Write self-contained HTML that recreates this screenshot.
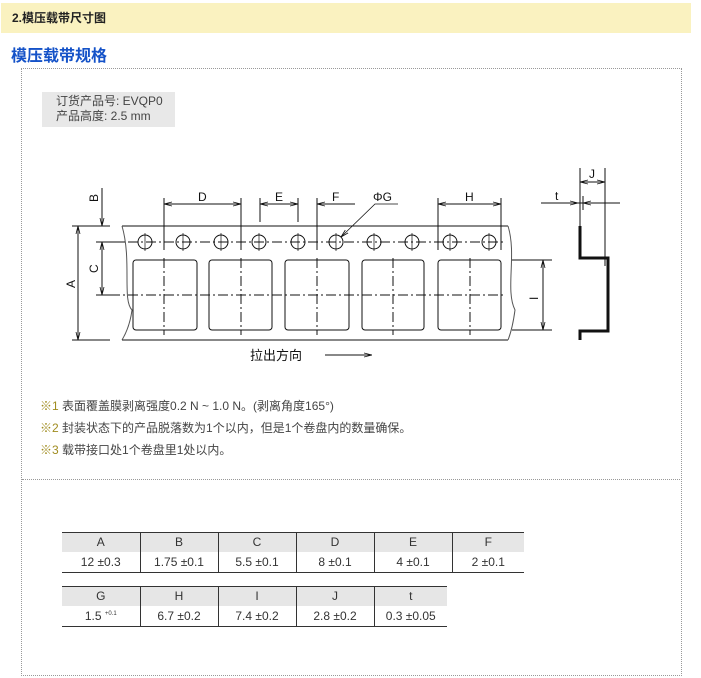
<!DOCTYPE html>
<html><head><meta charset="utf-8"><style>
*{margin:0;padding:0;box-sizing:border-box}
body{width:701px;height:678px;background:#fff;position:relative;font-family:"Liberation Sans","Noto Sans CJK SC",sans-serif;color:#333;overflow:hidden}
.hdr{position:absolute;left:1px;top:3px;width:690px;height:30px;background:#faf2c0;font-size:12px;font-weight:bold;line-height:30px;padding-left:11px;color:#222}
.ttl{position:absolute;left:11px;top:42px;font-size:16px;font-weight:bold;color:#1452c8}
.box{position:absolute;left:21px;top:68px;width:661px;height:608px;border:1px dotted #999}
.sep{position:absolute;left:22px;top:479px;width:660px;border-top:1px dotted #999}
.gray{position:absolute;left:42px;top:92px;width:133px;height:35px;background:#e8e8e8;font-size:12px;line-height:15px;padding:2px 0 0 14px;color:#444}
.note{position:absolute;left:40px;font-size:12px;color:#444}
.note b{font-weight:normal;color:#a08c20}
table{position:absolute;border-collapse:collapse;font-size:12px;color:#333}
td{text-align:center;height:20px;border-left:1px solid #333;padding:0}
td:first-child{border-left:none}
tr.h td{background:#e6e6e6;border-top:1px solid #333;height:19px}
tr.v td{border-bottom:1px solid #333;height:21px}
sup{font-size:6px;line-height:0}
</style></head><body>
<div class="hdr">2.模压载带尺寸图</div>
<div class="ttl">模压载带规格</div>
<div class="box"></div>
<div class="sep"></div>
<div class="gray">订货产品号: EVQP0<br>产品高度: 2.5 mm</div>
<svg style="position:absolute;left:0;top:0" width="701" height="678" font-family="Liberation Sans, sans-serif" font-size="12" fill="none" stroke="#111" stroke-width="1">
<defs><marker id="a" markerWidth="8" markerHeight="6" refX="8" refY="3" orient="auto-start-reverse" markerUnits="userSpaceOnUse"><path d="M0,1 L8,3 L0,5" stroke="#111" stroke-width="0.8" fill="none"/></marker></defs>
<path d="M122,226 H508"/><path d="M122,340 H508"/>
<path d="M122,226 C132,260 122,300 132,310 C130,325 125,335 122,340" stroke="#555"/>
<path d="M508,226 C517,255 505,290 515,310 C513,325 510,335 508,340" stroke="#555"/>
<path d="M110,242 H505" stroke-dasharray="10,3,2,3"/>
<path d="M110,295 H505" stroke-dasharray="10,3,2,3"/>
<g stroke-dasharray="10,3,2,3"><path d="M164,258 V335"/><path d="M241,258 V335"/><path d="M317,258 V335"/><path d="M393,258 V335"/><path d="M470,258 V335"/></g>
<g>
<circle cx="145" cy="242" r="7"/><circle cx="183" cy="242" r="7"/><circle cx="221" cy="242" r="7"/><circle cx="259" cy="242" r="7"/><circle cx="298" cy="242" r="7"/><circle cx="336" cy="242" r="7"/><circle cx="374" cy="242" r="7"/><circle cx="412" cy="242" r="7"/><circle cx="450" cy="242" r="7"/><circle cx="489" cy="242" r="7"/>
</g>
<g stroke-width="0.7"><path d="M145,233V251M183,233V251M221,233V251M259,233V251M298,233V251M336,233V251M374,233V251M412,233V251M450,233V251M489,233V251"/></g>
<g><rect x="133" y="260" width="64" height="70" rx="3"/><rect x="209" y="260" width="63" height="70" rx="3"/><rect x="285" y="260" width="64" height="70" rx="3"/><rect x="362" y="260" width="62" height="70" rx="3"/><rect x="438" y="260" width="63" height="70" rx="3"/></g>
<path d="M164,198 V250M241,198 V250M260,198 V222M298,198 V222M317,198 V250M438,198 V250M501,198 V250"/>
<path d="M164,204 H241" marker-start="url(#a)" marker-end="url(#a)"/>
<path d="M260,204 H298" marker-start="url(#a)" marker-end="url(#a)"/>
<path d="M355,204 H317" marker-end="url(#a)"/>
<path d="M438,204 H501" marker-start="url(#a)" marker-end="url(#a)"/>
<path d="M398,204 H375 L341,237" marker-end="url(#a)" stroke-width="0.8"/>
<path d="M72,226 H110M72,340 H110M96,242 H125M96,295 H120"/>
<path d="M102,188 V226" marker-end="url(#a)"/>
<path d="M102,242 V295" marker-start="url(#a)" marker-end="url(#a)"/>
<path d="M78,226 V340" marker-start="url(#a)" marker-end="url(#a)"/>
<path d="M512,260 H552M512,330 H552"/>
<path d="M543,260 V330" marker-start="url(#a)" marker-end="url(#a)"/>
<path d="M580,226 V258 H608 V331 H580 V340" stroke-width="3"/>
<path d="M580,168 V250M605,168 V266"/>
<path d="M580,182 H605" marker-start="url(#a)" marker-end="url(#a)"/>
<path d="M541,203 H620"/><path d="M566,203 H578" marker-end="url(#a)"/><path d="M595,203 H583" marker-end="url(#a)"/>
<path d="M583,196 V210"/>
<path d="M325,355 H372" marker-end="url(#a)"/>
<g fill="#111" stroke="none">
<text x="198" y="201">D</text><text x="275" y="201">E</text><text x="332" y="201">F</text><text x="373" y="201">ΦG</text><text x="465" y="201">H</text>
<text x="555" y="200">t</text><text x="589" y="178">J</text>
<text transform="translate(98,202) rotate(-90)">B</text>
<text transform="translate(98,273) rotate(-90)">C</text>
<text transform="translate(75,288) rotate(-90)">A</text>
<text transform="translate(538,300) rotate(-90)">I</text>
<text x="250" y="360" font-family="Liberation Sans, Noto Sans CJK SC, sans-serif" font-size="13">拉出方向</text>
</g>
</svg>
<div class="note" style="top:397px"><b>※1</b> 表面覆盖膜剥离强度0.2 N ~ 1.0 N。(剥离角度165°)</div>
<div class="note" style="top:419px"><b>※2</b> 封装状态下的产品脱落数为1个以内，但是1个卷盘内的数量确保。</div>
<div class="note" style="top:441px"><b>※3</b> 载带接口处1个卷盘里1处以内。</div>
<table style="left:62px;top:532px;width:462px">
<tr class="h"><td style="width:78px">A</td><td style="width:78px">B</td><td style="width:78px">C</td><td style="width:78px">D</td><td style="width:78px">E</td><td>F</td></tr>
<tr class="v"><td>12 ±0.3</td><td>1.75 ±0.1</td><td>5.5 ±0.1</td><td>8 ±0.1</td><td>4 ±0.1</td><td>2 ±0.1</td></tr>
</table>
<table style="left:62px;top:586px;width:385px">
<tr class="h"><td style="width:78px">G</td><td style="width:78px">H</td><td style="width:78px">I</td><td style="width:78px">J</td><td>t</td></tr>
<tr class="v"><td>1.5 <sup>+0.1</sup></td><td>6.7 ±0.2</td><td>7.4 ±0.2</td><td>2.8 ±0.2</td><td>0.3 ±0.05</td></tr>
</table>
</body></html>
